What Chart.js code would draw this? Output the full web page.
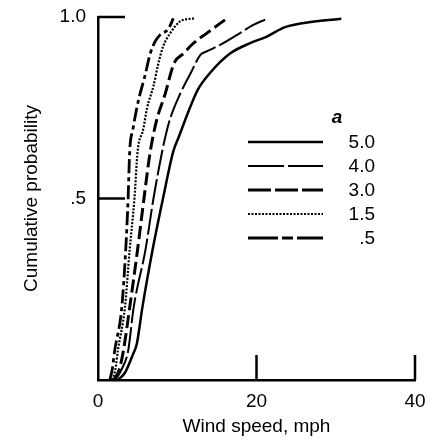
<!DOCTYPE html>
<html>
<head>
<meta charset="utf-8">
<script src="https://cdn.jsdelivr.net/npm/chart.js@4.4.1/dist/chart.umd.min.js"></script>
<style>
  html, body { margin: 0; padding: 0; background: #fff; }
  #chart { display: block; }
</style>
</head>
<body>
<canvas id="chart" width="428" height="443"></canvas>
<script>
// wind speed (mph) vs cumulative probability, one pair of arrays per value of a
const speed_a50 = [2.5, 3.4, 4.4, 4.9, 5.6, 6.9, 8.2, 9.5, 10.2, 11.6, 12.6, 14.1, 16.7, 19.2, 21.3, 23.6, 27.1, 30.7];
const prob_a50  = [0, 0.02, 0.07, 0.10, 0.20, 0.36, 0.50, 0.63, 0.67, 0.75, 0.80, 0.845, 0.90, 0.928, 0.946, 0.972, 0.987, 0.995];

const speed_a40 = [2.2, 3.0, 3.8, 4.5, 6.0, 7.0, 8.1, 8.5, 9.1, 10.4, 11.8, 12.9, 13.7, 15.4, 17.5, 19.6, 21.1];
const prob_a40  = [0, 0.03, 0.08, 0.20, 0.36, 0.50, 0.63, 0.67, 0.72, 0.79, 0.85, 0.895, 0.905, 0.923, 0.95, 0.978, 0.993];

const speed_a30 = [2.0, 2.7, 3.2, 4.0, 5.0, 5.8, 6.6, 7.4, 8.5, 9.3, 9.7, 10.8, 12.0, 13.7, 16.2];
const prob_a30  = [0, 0.03, 0.08, 0.20, 0.36, 0.50, 0.63, 0.716, 0.79, 0.854, 0.877, 0.90, 0.927, 0.955, 0.995];

const speed_a15 = [1.8, 2.2, 2.5, 3.4, 4.0, 4.6, 5.0, 5.7, 6.2, 7.0, 7.6, 8.2, 9.1, 10.3, 11.6, 12.2];
const prob_a15  = [0, 0.03, 0.08, 0.20, 0.36, 0.50, 0.63, 0.69, 0.75, 0.81, 0.87, 0.918, 0.955, 0.987, 0.995, 0.996];

const speed_a05 = [1.5, 1.8, 2.1, 3.0, 3.5, 3.8, 4.0, 4.4, 5.1, 5.9, 6.6, 7.2, 7.8, 8.9, 9.5];
const prob_a05  = [0, 0.03, 0.08, 0.20, 0.36, 0.50, 0.63, 0.69, 0.77, 0.836, 0.90, 0.932, 0.95, 0.968, 0.996];

const seriesLabels = ['5.0', '4.0', '3.0', '1.5', '.5'];
const xTicks = [0, 20, 40];
const xTickLabels = ['0', '20', '40'];
const yTicks = [0, 0.5, 1];
const yTickLabels = ['', '.5', '1.0'];
const xTickMarks = [20, 40];
const yTickMarks = [0.5, 1];

const FONT = 'Liberation Sans, Arial, Helvetica, sans-serif';

function pairs(xs, ys) {
    let out = [];
    for (let i = 0; i < xs.length; i++) {
        out.push({x: xs[i], y: ys[i]});
    }
    return out;
}

// line styles: plot dash, legend dash, width
const styles = [
    {dash: [], legendDash: [], width: 2.5},
    {dash: [26, 4], legendDash: [36, 4], width: 2},
    {dash: [13, 5], legendDash: [23, 4], width: 3},
    {dash: [2, 1.5], legendDash: [2, 1.5], width: 2.2},
    {dash: [14, 4, 4, 4], legendDash: [30, 4, 11, 4], width: 2.8}
];
const allSpeeds = [speed_a50, speed_a40, speed_a30, speed_a15, speed_a05];
const allProbs = [prob_a50, prob_a40, prob_a30, prob_a15, prob_a05];

let datasets = [];
for (let i = 0; i < seriesLabels.length; i++) {
    datasets.push({
        label: seriesLabels[i],
        data: pairs(allSpeeds[i], allProbs[i]),
        borderColor: '#000',
        borderWidth: styles[i].width,
        borderDash: styles[i].dash,
        pointRadius: 0,
        fill: false,
        cubicInterpolationMode: 'monotone'
    });
}

// tick marks that point into the plot
const innerTicks = {
    id: 'innerTicks',
    afterDatasetsDraw(chart) {
        const ctx = chart.ctx;
        const x = chart.scales.x, y = chart.scales.y;
        ctx.save();
        ctx.strokeStyle = '#000';
        ctx.lineWidth = 2.5;
        xTickMarks.forEach(v => {
            const px = x.getPixelForValue(v);
            ctx.beginPath();
            ctx.moveTo(px, y.bottom);
            ctx.lineTo(px, y.bottom - 25);
            ctx.stroke();
        });
        yTickMarks.forEach(v => {
            const py = y.getPixelForValue(v);
            ctx.beginPath();
            ctx.moveTo(x.left, py);
            ctx.lineTo(x.left + 27, py);
            ctx.stroke();
        });
        ctx.restore();
    }
};

// legend: "a" heading, line sample then right aligned value
const sideLegend = {
    id: 'sideLegend',
    afterDraw(chart) {
        const ctx = chart.ctx;
        const area = chart.chartArea;
        const x0 = area.left + 150, x1 = area.left + 225, tx = area.left + 277;
        ctx.save();
        ctx.fillStyle = '#000';
        ctx.textBaseline = 'middle';
        ctx.textAlign = 'center';
        ctx.font = 'italic bold 19px ' + FONT;
        ctx.fillText('a', area.left + 239, area.top + 101);
        ctx.font = '19px ' + FONT;
        ctx.textAlign = 'right';
        for (let i = 0; i < seriesLabels.length; i++) {
            const ly = area.top + 125 + i * 24;
            ctx.strokeStyle = '#000';
            ctx.lineWidth = styles[i].width;
            ctx.setLineDash(styles[i].legendDash);
            ctx.beginPath();
            ctx.moveTo(x0, ly);
            ctx.lineTo(x1, ly);
            ctx.stroke();
            ctx.fillText(seriesLabels[i], tx, ly + 1);
        }
        ctx.restore();
    }
};

const graph = new Chart(document.getElementById('chart').getContext('2d'), {
    type: 'line',
    data: {datasets: datasets},
    plugins: [innerTicks, sideLegend],
    options: {
        responsive: false,
        devicePixelRatio: 1,
        animation: false,
        layout: {padding: {top: 17, right: 13, left: 0, bottom: 0}},
        plugins: {
            legend: {display: false},
            tooltip: {enabled: false}
        },
        scales: {
            x: {
                type: 'linear',
                min: 0,
                max: 40,
                afterFit: scale => {
                    scale.height = 63;
                    scale.paddingLeft = 0;
                    scale.paddingRight = 0;
                },
                afterBuildTicks: scale => { scale.ticks = xTicks.map(v => ({value: v})); },
                grid: {drawOnChartArea: false, drawTicks: false},
                border: {display: true, color: '#000', width: 2.5},
                ticks: {
                    color: '#000',
                    padding: 10,
                    maxRotation: 0,
                    font: {family: FONT, size: 19},
                    callback: (v, i) => xTickLabels[i]
                },
                title: {
                    display: true,
                    text: 'Wind speed, mph',
                    color: '#000',
                    font: {family: FONT, size: 19},
                    padding: {top: 0, bottom: 5}
                }
            },
            y: {
                type: 'linear',
                min: 0,
                max: 1,
                afterFit: scale => {
                    scale.width = 98;
                    scale.paddingTop = 0;
                    scale.paddingBottom = 0;
                },
                afterBuildTicks: scale => { scale.ticks = yTicks.map(v => ({value: v})); },
                grid: {drawOnChartArea: false, drawTicks: false},
                border: {display: true, color: '#000', width: 2.5},
                ticks: {
                    color: '#000',
                    padding: 12,
                    font: {family: FONT, size: 19},
                    callback: (v, i) => yTickLabels[i]
                },
                title: {
                    display: true,
                    text: 'Cumulative probability',
                    color: '#000',
                    font: {family: FONT, size: 19},
                    padding: {top: 20, bottom: 0}
                }
            }
        }
    }
});
</script>
</body>
</html>
